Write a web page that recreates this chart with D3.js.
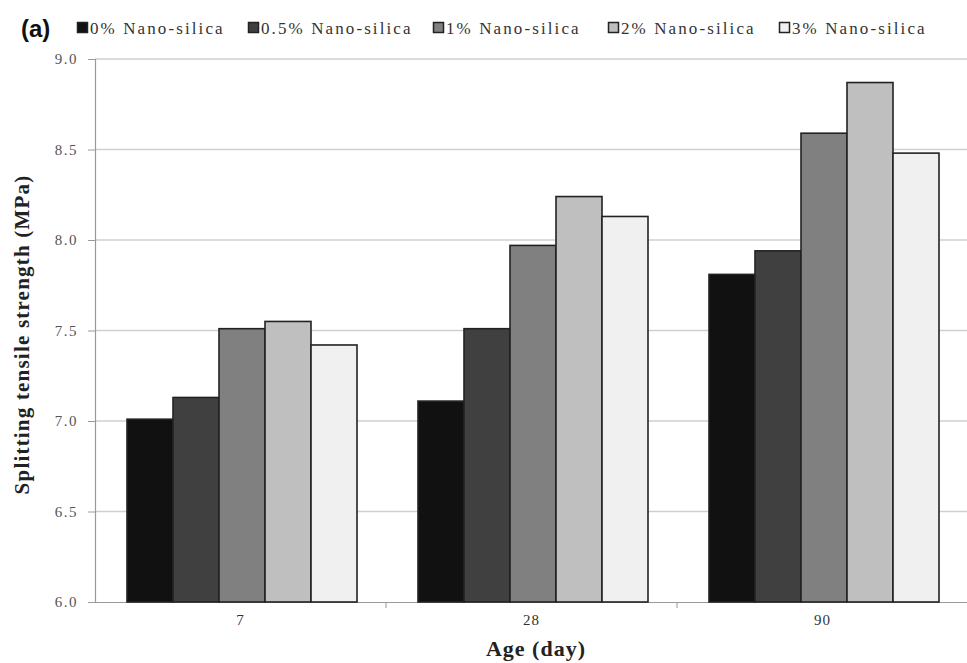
<!DOCTYPE html>
<html>
<head>
<meta charset="utf-8">
<script src="https://cdn.jsdelivr.net/npm/d3@7"></script>
<style>
  body { margin: 0; background: #fff; }
  svg { display: block; }
</style>
</head>
<body>
<div id="chart"></div>
<script>
// data
const ages = ["7", "28", "90"];
const series = ["0% Nano-silica", "0.5% Nano-silica", "1% Nano-silica", "2% Nano-silica", "3% Nano-silica"];
const s0 = [7.01, 7.11, 7.81];
const s05 = [7.13, 7.51, 7.94];
const s1 = [7.51, 7.97, 8.59];
const s2 = [7.55, 8.24, 8.87];
const s3 = [7.42, 8.13, 8.48];
const yTicks = [6.0, 6.5, 7.0, 7.5, 8.0, 8.5, 9.0];
const fills = ["#111111", "#404040", "#808080", "#bfbfbf", "#f0f0f0"];

const allVals = [s0, s05, s1, s2, s3];

const W = 967, H = 663;
const margin = { top: 59, right: 0, bottom: 61, left: 95 };
const width = 968 - margin.left,
    height = 602 - margin.top;

const svg = d3.select("#chart").append("svg")
    .attr("width", W)
    .attr("height", H);

const g = svg.append("g")
    .attr("transform", `translate(${margin.left},${margin.top})`);

const x0 = d3.scaleBand().domain(ages).range([0, width]).paddingInner(0).paddingOuter(0);
const x1 = d3.scaleBand().domain(series).range([32, x0.bandwidth() - 29]).padding(0);
const y = d3.scaleLinear().domain([6, 9]).range([height, 0]);

const serif = "'Liberation Serif', 'Times New Roman', serif";

// gridlines
g.selectAll(".grid")
    .data(yTicks.slice(1))
    .enter().append("line")
    .attr("x1", 0).attr("x2", width)
    .attr("y1", d => y(d)).attr("y2", d => y(d))
    .attr("stroke", "#cfcfcf")
    .attr("stroke-width", 1.5);

// y axis
const yAxis = g.append("g")
    .call(d3.axisLeft(y).tickValues(yTicks).tickFormat(d3.format(".1f")).tickSize(7).tickPadding(10));
yAxis.select(".domain").attr("stroke", "#999").attr("stroke-width", 1.2);
yAxis.selectAll(".tick line").attr("stroke", "#999");
yAxis.selectAll("text")
    .style("font-family", serif)
    .style("font-size", "15px")
    .style("letter-spacing", "1.5px")
    .attr("fill", "#555");

// x axis
const xAxis = g.append("g")
    .attr("transform", `translate(0,${height})`)
    .call(d3.axisBottom(x0).tickSize(0).tickPadding(12));
xAxis.select(".domain").attr("stroke", "#999").attr("stroke-width", 1.2);
xAxis.selectAll("text")
    .style("font-family", serif)
    .style("font-size", "15px")
    .style("letter-spacing", "1px")
    .attr("fill", "#333");
// tick marks between categories
g.selectAll(".xsep")
    .data(ages.slice(1))
    .enter().append("line")
    .attr("x1", d => x0(d)).attr("x2", d => x0(d))
    .attr("y1", height).attr("y2", height + 6)
    .attr("stroke", "#999");

// bars
const groups = g.selectAll(".grp")
    .data(ages)
    .enter().append("g")
    .attr("transform", d => `translate(${x0(d)},0)`);

groups.selectAll("rect")
    .data((d, i) => series.map((s, j) => ({ s: s, j: j, v: allVals[j][i] })))
    .enter().append("rect")
    .attr("x", d => x1(d.s))
    .attr("y", d => y(d.v))
    .attr("width", x1.bandwidth())
    .attr("height", d => height - y(d.v))
    .attr("fill", d => fills[d.j])
    .attr("stroke", "#222")
    .attr("stroke-width", 1.6);

// axis titles
svg.append("text")
    .attr("transform", `translate(29,${(margin.top + 602) / 2 + 4}) rotate(-90)`)
    .attr("text-anchor", "middle")
    .style("font-family", serif)
    .style("font-weight", "bold")
    .style("font-size", "21px")
    .style("letter-spacing", "1.2px")
    .attr("fill", "#222")
    .text("Splitting tensile strength (MPa)");

svg.append("text")
    .attr("x", 536)
    .attr("y", 656)
    .attr("text-anchor", "middle")
    .style("font-family", serif)
    .style("font-weight", "bold")
    .style("font-size", "22px")
    .style("letter-spacing", "1px")
    .attr("fill", "#222")
    .text("Age (day)");

// panel label
svg.append("text")
    .attr("x", 21)
    .attr("y", 37)
    .style("font-family", "'Liberation Sans', Arial, sans-serif")
    .style("font-weight", "bold")
    .style("font-size", "24px")
    .attr("fill", "#111")
    .text("(a)");

// legend
const legendX = [77, 248, 433, 608, 779];
const legend = svg.selectAll(".leg")
    .data(series)
    .enter().append("g")
    .attr("transform", (d, i) => `translate(${legendX[i]},22)`);
legend.append("rect")
    .attr("x", 0.5).attr("y", 0.5)
    .attr("width", 10).attr("height", 10)
    .attr("fill", (d, i) => fills[i])
    .attr("stroke", "#222")
    .attr("stroke-width", 1.5);
legend.append("text")
    .attr("x", 13)
    .attr("y", 12)
    .style("font-family", serif)
    .style("font-size", "17px")
    .style("letter-spacing", "2.1px")
    .attr("fill", "#333")
    .text(d => d);
</script>
</body>
</html>
